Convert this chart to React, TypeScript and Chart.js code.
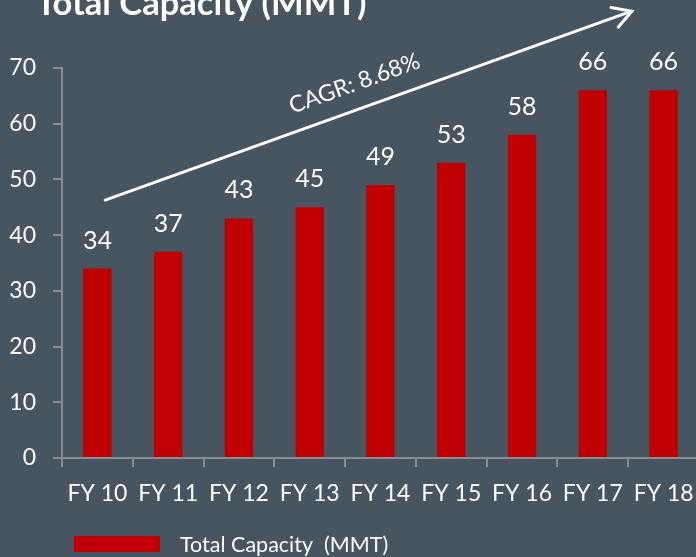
import React, { useEffect, useRef } from "react";
import { Chart, registerables } from "chart.js";

Chart.register(...registerables);

// ---- data ----
const categories = ["FY 10", "FY 11", "FY 12", "FY 13", "FY 14", "FY 15", "FY 16", "FY 17", "FY 18"];
const capacity = [34, 37, 43, 45, 49, 53, 58, 66, 66];
const yMin = 0;
const yMax = 70;
const yStep = 10;
const seriesLabel = "Total Capacity  (MMT)";
const titleText = "Total Capacity (MMT)";
const cagrText = "CAGR: 8.68%";
// arrow annotation in data units: [category index, value]
const arrowFrom = [0.11, 46.3];
const arrowTo = [7.55, 80.2];

// ---- style ----
const BG = "#465560";
const BAR = "#c00000";
const AXIS = "#878d92";
const TEXT = "#ffffff";
const FONT = "Lato";

const W = 720;
const H = 557;

const overlay = {
  id: "overlay",
  afterDraw(chart: any) {
    const ctx = chart.ctx as CanvasRenderingContext2D;
    const xs = chart.scales.x;
    const ys = chart.scales.y;
    ctx.save();

    // value labels
    ctx.fillStyle = TEXT;
    ctx.font = `25px ${FONT}`;
    ctx.textAlign = "center";
    ctx.textBaseline = "alphabetic";
    chart.getDatasetMeta(0).data.forEach((bar: any, i: number) => {
      ctx.fillText(String(capacity[i]), bar.x, bar.y - 20);
    });

    // arrow
    const x1 = xs.getPixelForValue(arrowFrom[0]);
    const y1 = ys.getPixelForValue(arrowFrom[1]);
    const x2 = xs.getPixelForValue(arrowTo[0]);
    const y2 = ys.getPixelForValue(arrowTo[1]);
    const ang = Math.atan2(y2 - y1, x2 - x1);
    ctx.strokeStyle = TEXT;
    ctx.lineWidth = 3;
    ctx.lineCap = "round";
    ctx.beginPath();
    ctx.moveTo(x1, y1);
    ctx.lineTo(x2, y2);
    ctx.stroke();
    const headLen = 21;
    const spread = (30 * Math.PI) / 180;
    ctx.beginPath();
    ctx.moveTo(x2 - headLen * Math.cos(ang - spread), y2 - headLen * Math.sin(ang - spread));
    ctx.lineTo(x2, y2);
    ctx.lineTo(x2 - headLen * Math.cos(ang + spread), y2 - headLen * Math.sin(ang + spread));
    ctx.stroke();

    // CAGR label along the arrow
    const t = 0.49;
    ctx.translate(x1 + (x2 - x1) * t, y1 + (y2 - y1) * t);
    ctx.rotate(ang);
    ctx.font = `23px ${FONT}`;
    ctx.textAlign = "center";
    ctx.textBaseline = "alphabetic";
    ctx.fillText(cagrText, 0, -18);
    ctx.setTransform(1, 0, 0, 1, 0, 0);

    // title
    ctx.font = `bold 34.5px ${FONT}`;
    ctx.textAlign = "left";
    ctx.fillText(titleText, 36, 15);

    // legend
    ctx.fillStyle = BAR;
    ctx.fillRect(74, 536, 86, 16);
    ctx.fillStyle = TEXT;
    ctx.font = `21.5px ${FONT}`;
    ctx.fillText(seriesLabel, 180, 552);

    ctx.restore();
  },
};

export default function App() {
  const ref = useRef<HTMLCanvasElement | null>(null);

  useEffect(() => {
    if (!ref.current) return;
    const chart = new Chart(ref.current, {
      type: "bar",
      data: {
        labels: categories,
        datasets: [
          {
            label: seriesLabel,
            data: capacity,
            backgroundColor: BAR,
            borderWidth: 0,
            categoryPercentage: 1,
            barPercentage: 0.4,
          },
        ],
      },
      options: {
        animation: false,
        responsive: false,
        devicePixelRatio: 1,
        layout: { padding: { left: 0, right: W - 699, top: 68, bottom: 40 } },
        plugins: {
          legend: { display: false },
          title: { display: false },
          tooltip: { enabled: false },
        },
        scales: {
          x: {
            afterFit: (s: any) => {
              s.height = 59;
            },
            grid: {
              display: true,
              drawOnChartArea: false,
              drawTicks: true,
              tickLength: 9,
              color: AXIS,
              lineWidth: 2,
            },
            border: { display: true, color: AXIS, width: 2 },
            ticks: {
              color: TEXT,
              font: { family: FONT, size: 23 },
              padding: 13,
              maxRotation: 0,
              autoSkip: false,
            },
          },
          y: {
            min: yMin,
            max: yMax,
            afterFit: (s: any) => {
              s.width = 62;
            },
            grid: {
              display: true,
              drawOnChartArea: false,
              drawTicks: true,
              tickLength: 9,
              color: AXIS,
              lineWidth: 2,
            },
            border: { display: true, color: AXIS, width: 2 },
            ticks: {
              stepSize: yStep,
              color: TEXT,
              font: { family: FONT, size: 23 },
              padding: 17,
            },
          },
        },
      },
      plugins: [overlay],
    });
    return () => chart.destroy();
  }, []);

  return (
    <div
      style={{
        position: "absolute",
        left: 0,
        top: 0,
        width: 696,
        height: 557,
        overflow: "hidden",
        background: BG,
      }}
    >
      <canvas ref={ref} width={W} height={H} style={{ width: W, height: H, display: "block" }} />
    </div>
  );
}
